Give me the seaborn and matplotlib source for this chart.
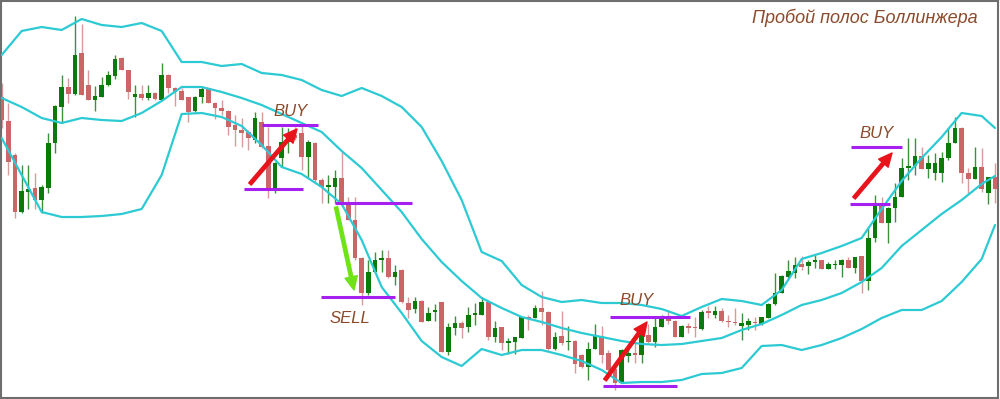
import numpy as np
import pandas as pd
import matplotlib
matplotlib.use("Agg")
import matplotlib.pyplot as plt
import seaborn as sns

# ---------------- data (price units) ----------------
opens = [303, 279, 245, 188, 208, 212, 200, 212, 257, 293, 313, 306, 347, 315, 300, 303, 315, 324, 342, 330,
         303, 306, 302, 307, 300, 325, 312, 309, 303, 289, 303, 311, 297, 292, 289, 275, 270, 268, 260, 278,
         254, 212, 242, 258, 265, 267, 243, 257, 220, 213, 213, 222, 197, 180, 142, 107, 128, 140, 142, 123,
         130, 97, 91, 99, 79, 88, 98, 48, 72, 77, 73, 85, 85, 98, 63, 73, 57, 58, 62, 83,
         82, 92, 88, 51, 64, 58, 59, 45, 33, 51, 64, 47, 31, 17, 44, 47, 45, 65, 58, 73,
         82, 79, 63, 74, 73, 71, 89, 85, 89, 79, 78, 74, 75, 78, 76, 82, 96, 107, 123, 127,
         136, 134, 138, 140, 131, 135, 135, 140, 132, 144, 119, 162, 197, 177, 192, 203, 232, 234, 244, 231,
         227, 227, 242, 257, 272, 227, 221, 233, 207, 223]
highs = [317, 297, 247, 235, 235, 227, 215, 267, 295, 325, 322, 384, 376, 330, 314, 323, 329, 345, 343, 330,
         315, 315, 315, 308, 337, 326, 313, 312, 303, 304, 313, 312, 298, 300, 290, 285, 282, 270, 288, 288,
         273, 238, 273, 272, 273, 277, 260, 258, 222, 225, 230, 248, 203, 203, 143, 140, 148, 150, 150, 135,
         131, 103, 103, 100, 93, 96, 98, 77, 84, 79, 93, 97, 103, 98, 79, 73, 62, 63, 83, 85,
         95, 109, 89, 68, 89, 74, 60, 46, 58, 76, 74, 50, 33, 51, 52, 57, 69, 76, 82, 85,
         90, 80, 75, 77, 83, 90, 94, 94, 92, 85, 92, 87, 82, 83, 83, 97, 127, 125, 140, 143,
         144, 140, 145, 140, 138, 140, 141, 143, 143, 144, 173, 205, 203, 193, 217, 242, 262, 262, 253, 245,
         247, 248, 272, 283, 273, 232, 253, 252, 223, 237]
lows = [272, 225, 182, 187, 191, 191, 187, 207, 247, 277, 297, 305, 305, 300, 289, 303, 314, 321, 330, 301,
        283, 300, 300, 300, 300, 307, 294, 300, 278, 288, 297, 297, 281, 285, 265, 254, 253, 250, 257, 252,
        202, 207, 233, 247, 260, 230, 223, 218, 197, 197, 197, 197, 180, 140, 95, 105, 127, 128, 122, 115,
        97, 82, 87, 78, 79, 79, 48, 45, 65, 62, 68, 75, 85, 60, 58, 50, 46, 46, 62, 70,
        82, 75, 50, 50, 55, 50, 27, 32, 20, 51, 37, 24, 10, 17, 38, 37, 37, 57, 53, 73,
        76, 63, 63, 67, 63, 70, 82, 82, 78, 73, 75, 60, 70, 70, 75, 82, 95, 107, 122, 122,
        130, 126, 132, 131, 131, 131, 123, 132, 127, 107, 110, 158, 177, 157, 178, 203, 220, 225, 231, 222,
        220, 218, 240, 257, 217, 207, 221, 208, 196, 197]
closes = [280, 238, 188, 209, 211, 200, 213, 257, 294, 313, 306, 345, 305, 300, 304, 315, 325, 341, 330, 308,
          306, 302, 307, 301, 325, 312, 308, 300, 288, 303, 311, 297, 292, 289, 273, 270, 267, 262, 282, 253,
          212, 237, 258, 263, 262, 243, 258, 220, 213, 214, 222, 198, 180, 142, 107, 128, 140, 142, 123, 128,
          98, 90, 99, 78, 87, 90, 48, 73, 77, 72, 85, 87, 98, 63, 72, 57, 59, 63, 83, 81,
          92, 88, 51, 63, 57, 59, 36, 33, 51, 64, 45, 30, 17, 50, 47, 45, 68, 58, 73, 82,
          79, 63, 74, 72, 72, 88, 87, 89, 79, 78, 77, 77, 79, 77, 83, 96, 107, 124, 129, 135,
          133, 138, 140, 131, 136, 136, 140, 132, 143, 119, 162, 197, 177, 192, 203, 232, 234, 244, 231, 237,
          237, 242, 257, 272, 227, 221, 233, 211, 223, 211]

band_idx = list(range(0, 148, 3)) + [149]
band_upper = [345, 369, 373, 370, 381, 375, 373, 377, 369, 338, 338, 334, 336, 327, 325, 320, 310, 304, 312, 304,
              293, 273, 239, 200, 148, 139, 115, 103, 98, 100, 97, 97, 95, 91, 84, 93, 101, 99, 95, 110,
              141, 147, 154, 162, 191, 219, 242, 263, 287, 284, 272]
band_mid = [302, 293, 282, 277, 282, 280, 279, 287, 299, 313, 313, 308, 302, 295, 286, 277, 268, 249, 232, 210,
            188, 161, 138, 119, 102, 92, 83, 78, 72, 67, 63, 59, 56, 55, 56, 59, 62, 70, 76, 85,
            95, 100, 107, 118, 132, 154, 170, 186, 200, 216, 224]
band_lower = [262, 225, 188, 183, 183, 184, 186, 191, 225, 286, 287, 283, 274, 255, 233, 226, 213, 196, 160, 113,
              87, 59, 43, 34, 51, 45, 50, 50, 45, 39, 30, 17, 18, 18, 20, 26, 27, 32, 54, 55,
              50, 55, 62, 71, 82, 90, 90, 99, 118, 141, 175]

title_text = "Пробой полос Боллинжера"
# signal levels: (start bar, end bar, price)
levels = [(39.05, 47.45, 275), (36.35, 45.2, 211), (50.0, 61.55, 197), (47.9, 59.0, 103),
          (91.25, 103.25, 83), (90.2, 101.3, 14), (127.4, 135.05, 253), (127.2, 133.25, 196)]
signal_labels = [("BUY", 43.4, 288), ("SELL", 52.2, 82), ("BUY", 95.3, 100), ("BUY", 131.3, 266)]
# arrows: (from bar, from price, to bar, to price, kind)
signal_arrows = [(37.25, 216, 44.3, 271, "buy"), (50.15, 193, 52.85, 110, "sell"),
                 (90.5, 20, 96.8, 78, "buy"), (127.85, 202, 133.55, 247, "buy")]

# ---------------- plotting ----------------
sns.set_theme(style="white")
plt.rcParams["font.family"] = ["Liberation Sans", "DejaVu Sans"]

fig = plt.figure(figsize=(10, 3.99), dpi=100)
ax = fig.add_axes([0.001, 0.0025, 0.997, 0.995])

df = pd.DataFrame({"o": opens, "h": highs, "l": lows, "c": closes})
df["i"] = np.arange(len(df))
up = df["c"] >= df["o"]

GREEN = "#0b7a0b"
RED = "#cc6666"
GREEN_W = "#3f8f3f"
RED_W = "#d69b9b"

ax.vlines(df.loc[up, "i"], df.loc[up, "l"], df.loc[up, "h"], color=GREEN_W, lw=1.0, zorder=2)
ax.vlines(df.loc[~up, "i"], df.loc[~up, "l"], df.loc[~up, "h"], color=RED_W, lw=1.0, zorder=2)
bottom = np.minimum(df["o"], df["c"])
height = np.maximum(np.abs(df["c"] - df["o"]), 1.5)
ax.bar(df.loc[up, "i"], height[up], bottom=bottom[up], width=0.68, color=GREEN, linewidth=0, zorder=3)
ax.bar(df.loc[~up, "i"], height[~up], bottom=bottom[~up], width=0.68, color=RED, linewidth=0, zorder=3)

bands = pd.DataFrame({"i": band_idx * 3,
                      "v": band_upper + band_mid + band_lower,
                      "b": ["upper"] * len(band_idx) + ["mid"] * len(band_idx) + ["lower"] * len(band_idx)})
sns.lineplot(data=bands, x="i", y="v", units="b", estimator=None, color="#2ccad3", lw=1.6,
             ax=ax, zorder=4, legend=False)

for x0, x1, y in levels:
    ax.plot([x0, x1], [y, y], color="#a51ff0", lw=2.2, solid_capstyle="butt", zorder=5)

for x0, y0, x1, y1, kind in signal_arrows:
    col = "#e8141c" if kind == "buy" else "#6ee318"
    ax.annotate("", xy=(x1, y1), xytext=(x0, y0),
                arrowprops=dict(arrowstyle="simple,head_width=0.75,head_length=0.8,tail_width=0.2",
                                color=col, shrinkA=0, shrinkB=0, mutation_scale=12), zorder=6)

for txt, x, y in signal_labels:
    ax.text(x, y, txt, color="#8b4a2b", fontsize=12, style="italic", ha="center", va="center", zorder=7)

ax.text(0.98, 0.958, title_text, transform=ax.transAxes, color="#8b4a2b", fontsize=13,
        style="italic", ha="right", va="center")

ax.set_xlim(-0.1, 149.45)
ax.set_ylim(2, 399)
ax.set_xticks([])
ax.set_yticks([])
ax.set_xlabel("")
ax.set_ylabel("")
for s in ax.spines.values():
    s.set_visible(True)
    s.set_color("#6e6e6e")
    s.set_linewidth(1.5)

fig.savefig("out.png", dpi=100, facecolor="white")
